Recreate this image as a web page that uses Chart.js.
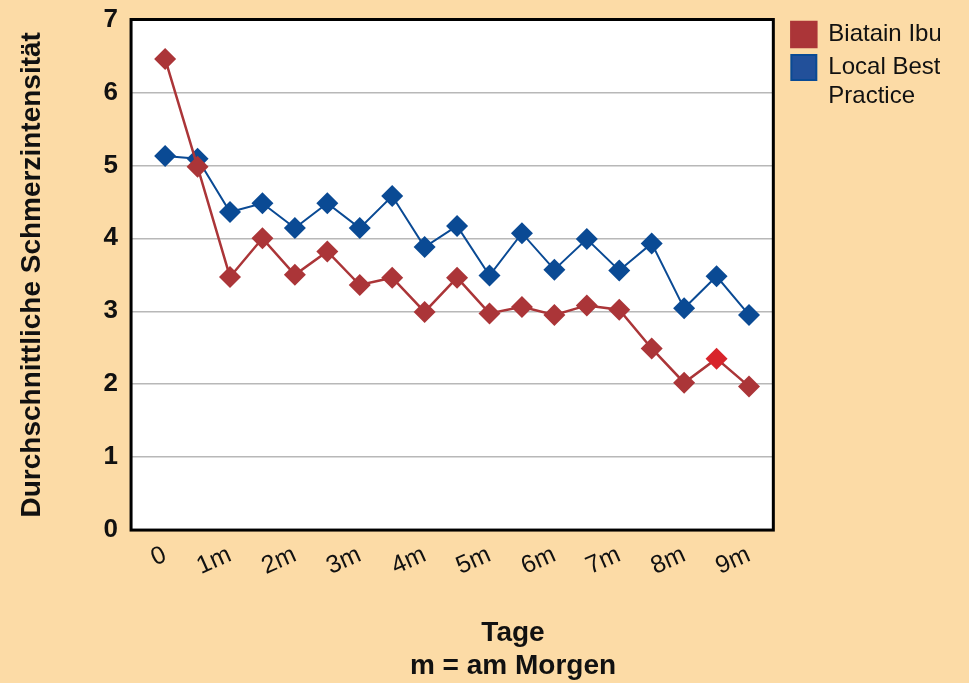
<!DOCTYPE html>
<html>
<head>
<meta charset="utf-8">
<title>Schmerzintensität</title>
<script src="https://cdn.jsdelivr.net/npm/chart.js@4.4.1/dist/chart.umd.min.js"></script>
<style>
	html, body { margin: 0; padding: 0; background: #fcdba6; }
	#wrap { width: 969px; height: 683px; }
</style>
</head>
<body>
<div id="wrap"><canvas id="painChart" width="969" height="683"></canvas></div>
<script>
// measurement points (0, evening, 1m, evening, 2m, ...)
const POINT_INDEX = [0, 1, 2, 3, 4, 5, 6, 7, 8, 9, 10, 11, 12, 13, 14, 15, 16, 17, 18];
const TICK_LABELS = ['0', '1m', '2m', '3m', '4m', '5m', '6m', '7m', '8m', '9m'];
const BIATAIN = [6.46, 4.98, 3.47, 4.0, 3.5, 3.82, 3.36, 3.46, 2.99, 3.46, 2.97, 3.06, 2.95, 3.08, 3.02, 2.49, 2.02, 2.35, 1.97];
const LOCAL_BEST = [5.13, 5.09, 4.36, 4.48, 4.14, 4.48, 4.14, 4.58, 3.88, 4.17, 3.49, 4.07, 3.57, 3.99, 3.56, 3.93, 3.04, 3.48, 2.95];
const Y_TICKS = [0, 1, 2, 3, 4, 5, 6, 7];

const FONT = "'Liberation Sans', Arial, Helvetica, sans-serif";
const RED = '#ab3538';
const RED_HIGHLIGHT = '#d8242b';
const BLUE = '#0a4a94';

const highlightIndex = 17;
const redPointColors = BIATAIN.map((v, i) => (i === highlightIndex ? RED_HIGHLIGHT : RED));

function toPoints(values) {
	return values.map((v, i) => ({ x: POINT_INDEX[i], y: v }));
}

// white plot area with a heavy black frame
const plotBox = {
	id: 'plotBox',
	beforeDraw(chart) {
		const { ctx, chartArea: a } = chart;
		ctx.save();
		ctx.fillStyle = '#ffffff';
		ctx.fillRect(a.left, a.top, a.right - a.left, a.bottom - a.top);
		ctx.restore();
	},
	beforeDatasetsDraw(chart) {
		const { ctx, chartArea: a } = chart;
		ctx.save();
		ctx.strokeStyle = '#000000';
		ctx.lineWidth = 3;
		ctx.strokeRect(a.left, a.top, a.right - a.left, a.bottom - a.top);
		ctx.restore();
	},
};

// the axis caption sits a bit right of the canvas centre
const titleShift = {
	id: 'titleShift',
	afterLayout(chart) {
		const t = chart.titleBlock;
		if (t) {
			t.left += 43;
			t.right += 43;
		}
	},
};

const ctx = document.getElementById('painChart').getContext('2d');
const chart = new Chart(ctx, {
	type: 'line',
	data: {
		datasets: [
			{
				label: 'Biatain Ibu',
				data: toPoints(BIATAIN),
				borderColor: RED,
				backgroundColor: RED,
				borderWidth: 2.5,
				pointStyle: 'rectRot',
				pointRadius: 11,
				pointBorderWidth: 0,
				pointBackgroundColor: redPointColors,
				pointBorderColor: redPointColors,
			},
			{
				label: ['Local Best', 'Practice'],
				data: toPoints(LOCAL_BEST),
				borderColor: BLUE,
				backgroundColor: '#22509a',
				borderWidth: 2,
				pointStyle: 'rectRot',
				pointRadius: 11,
				pointBorderWidth: 0,
				pointBackgroundColor: BLUE,
				pointBorderColor: BLUE,
			},
		],
	},
	options: {
		responsive: false,
		animation: false,
		layout: {
			padding: { top: 14, left: 0, right: 29, bottom: 0 },
		},
		scales: {
			x: {
				type: 'linear',
				min: -1.05,
				max: 18.75,
				afterBuildTicks(scale) {
					scale.ticks = TICK_LABELS.map((t, i) => ({ value: i * 2 }));
				},
				grid: { display: false, drawTicks: false },
				border: { display: false },
				ticks: {
					autoSkip: false,
					minRotation: 24,
					maxRotation: 24,
					padding: 10,
					color: '#111',
					font: { family: FONT, size: 25 },
					callback: value => TICK_LABELS[value / 2],
				},
			},
			y: {
				min: 0,
				max: 7,
				afterBuildTicks(scale) {
					scale.ticks = Y_TICKS.map(v => ({ value: v }));
				},
				grid: { color: '#b8b8b8', lineWidth: 1.5, drawTicks: false },
				border: { display: false },
				ticks: {
					padding: 13,
					color: '#111',
					font: { family: FONT, size: 26, weight: 'bold', lineHeight: 0.5 },
				},
				title: {
					display: true,
					text: 'Durchschnittliche Schmerzintensität',
					color: '#111',
					font: { family: FONT, size: 28, weight: 'bold' },
					padding: { top: 15, bottom: 42 },
				},
			},
			gap: {
				type: 'linear',
				position: 'right',
				display: true,
				ticks: { display: false },
				grid: { display: false, drawTicks: false },
				border: { display: false },
				afterFit(scale) {
					scale.width = 10;
				},
			},
		},
		plugins: {
			legend: {
				position: 'right',
				align: 'start',
				labels: {
					boxWidth: 25,
					boxHeight: 25,
					padding: 8,
					color: '#111',
					font: { family: FONT, size: 24 },
				},
			},
			title: {
				display: true,
				position: 'bottom',
				text: ['Tage', 'm = am Morgen'],
				color: '#111',
				font: { family: FONT, size: 28, weight: 'bold', lineHeight: 1.15 },
				padding: { top: 26, bottom: 1 },
			},
			tooltip: { enabled: false },
		},
	},
	plugins: [plotBox, titleShift],
});
</script>
</body>
</html>
